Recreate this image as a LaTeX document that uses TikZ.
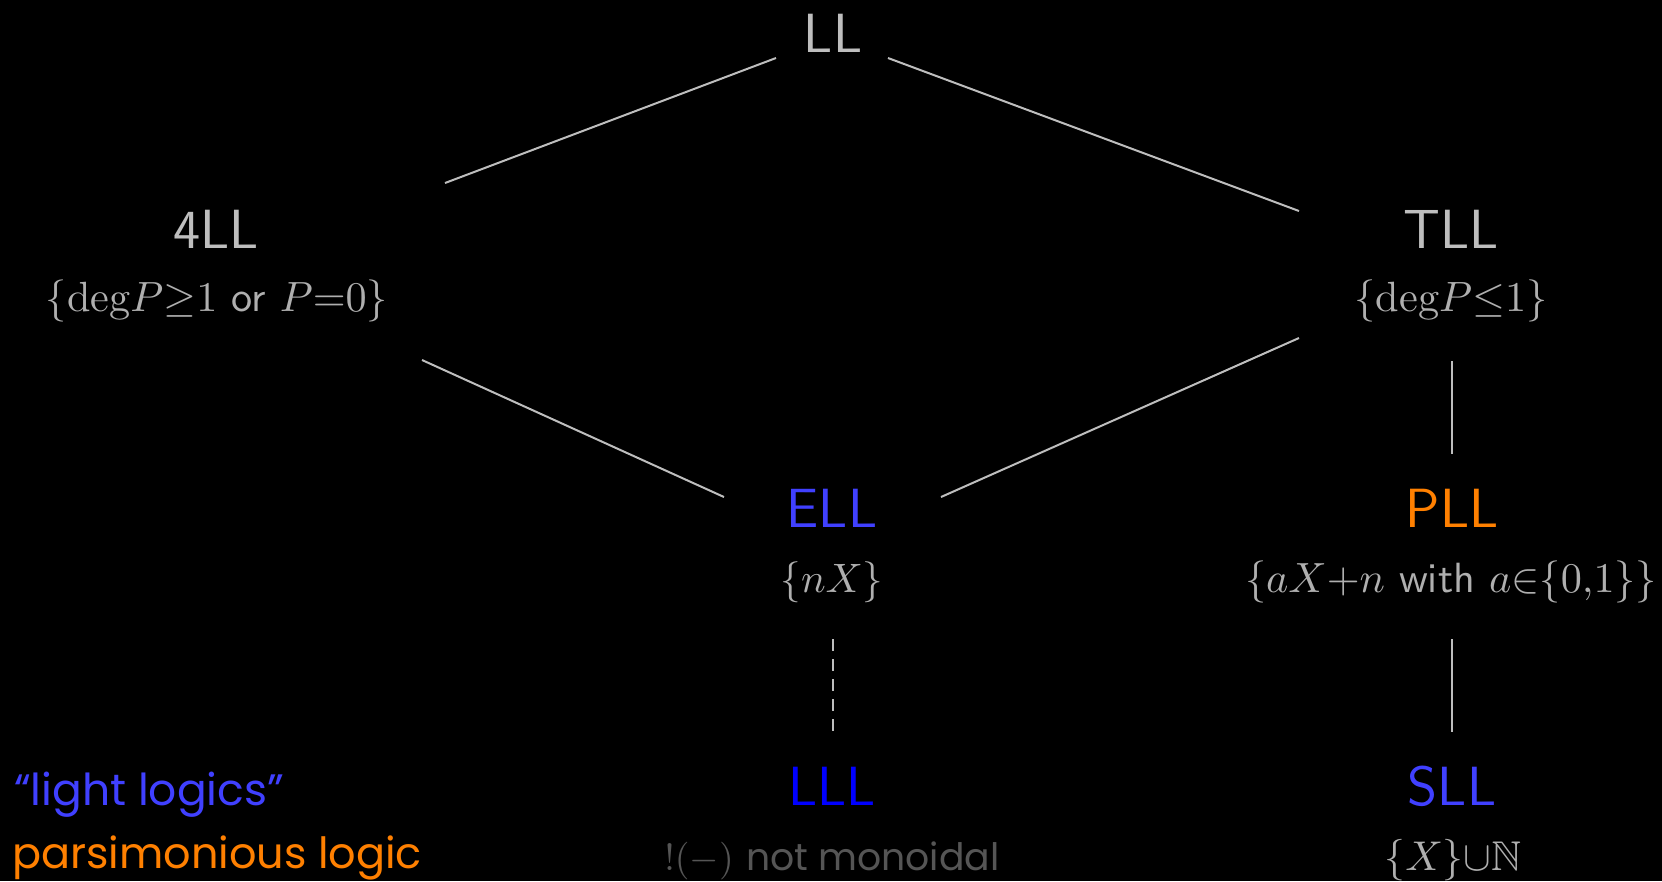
\documentclass[tikz,border=0pt]{standalone}
\usepackage{amssymb}
\usepackage{graphicx}
\usepackage{fontspec}
\newfontfamily\gothic{Poppins}
\usetikzlibrary{calc}
\definecolor{namegray}{RGB}{190,190,190}
\definecolor{subgray}{RGB}{175,175,175}
\definecolor{linegray}{RGB}{190,190,190}
\definecolor{lightblue}{RGB}{64,64,255}
\definecolor{pureblue}{RGB}{0,0,255}
\definecolor{parsorange}{RGB}{255,128,0}
\definecolor{darkgray}{RGB}{85,85,85}
\newlength\upx \setlength\upx{0.25pt}
\newcommand\fitw[2]{\resizebox{#1\upx}{!}{#2}}
\begin{document}
\begin{tikzpicture}[x=0.25pt,y=-0.25pt,
  every node/.style={inner sep=0pt,outer sep=0pt},
  logicname/.style={anchor=base,font=\sffamily\fontsize{13.8}{16}\selectfont,text=namegray},
  subtitle/.style={anchor=base,text=subgray},
  conn/.style={draw=linegray,line width=0.5pt}]
\fill[black] (0,0) rectangle (1662,881);
\useasboundingbox (0,0) rectangle (1662,881);

% logic names
\node[logicname] (LL) at (833,52) {LL};
\node[logicname] (fourLL) at (216,248) {4LL};
\node[logicname] (TLL) at (1451,248) {TLL};
\node[logicname,text=lightblue] (ELL) at (832,527) {ELL};
\node[logicname,text=parsorange] (PLL) at (1452,527) {PLL};
\node[logicname,text=pureblue] (LLL) at (832,805) {LLL};
\node[logicname,text=lightblue] (SLL) at (1452,805) {SLL};

% subtitles
\node[subtitle] (s4LL) at (217,311) {\fitw{342}{$\{\mathrm{deg}P{\geq}1$ \textsf{or} $P{=}0\}$}};
\node[subtitle] (sTLL) at (1451,311) {\fitw{193}{$\{\mathrm{deg}P{\leq}1\}$}};
\node[subtitle] (sELL) at (832,592) {\fitw{103}{$\{nX\}$}};
\node[subtitle] (sPLL) at (1451,592) {\fitw{412}{$\{aX{+}n$ \textsf{with} $a{\in}\{0{,}1\}\}$}};
\node[subtitle,text=darkgray] (sLLL) at (832,870) {\fitw{335}{$!(-)$ {\gothic not monoidal}}};
\node[subtitle] (sSLL) at (1453,870) {\fitw{137}{$\{X\}{\cup}\mathbb{N}$}};

% legend
\node[anchor=base west,text=lightblue] (legLight) at (14,805) {\fitw{270}{\gothic “light logics”}};
\node[anchor=base west,text=parsorange] (legPars) at (12,868) {\fitw{410}{\gothic parsimonious logic}};

% connectors
\draw[conn] ($(LL.base)+(-57,6)$) -- ($(fourLL.base)+(229,-65)$);
\draw[conn] ($(LL.base)+(55,6)$) -- ($(TLL.base)+(-152,-37)$);
\draw[conn] ($(fourLL.base)+(206,112)$) -- ($(ELL.base)+(-108,-30)$);
\draw[conn] ($(TLL.base)+(-152,90)$) -- ($(ELL.base)+(109,-30)$);
\draw[conn] ($(TLL.base)+(1,113)$) -- ($(PLL.base)+(0,-73)$);
\draw[conn] ($(PLL.base)+(0,112)$) -- ($(SLL.base)+(0,-73)$);
\draw[conn,dash pattern=on 3pt off 2pt] ($(ELL.base)+(1,112)$) -- ($(LLL.base)+(1,-73)$);
\end{tikzpicture}
\end{document}
